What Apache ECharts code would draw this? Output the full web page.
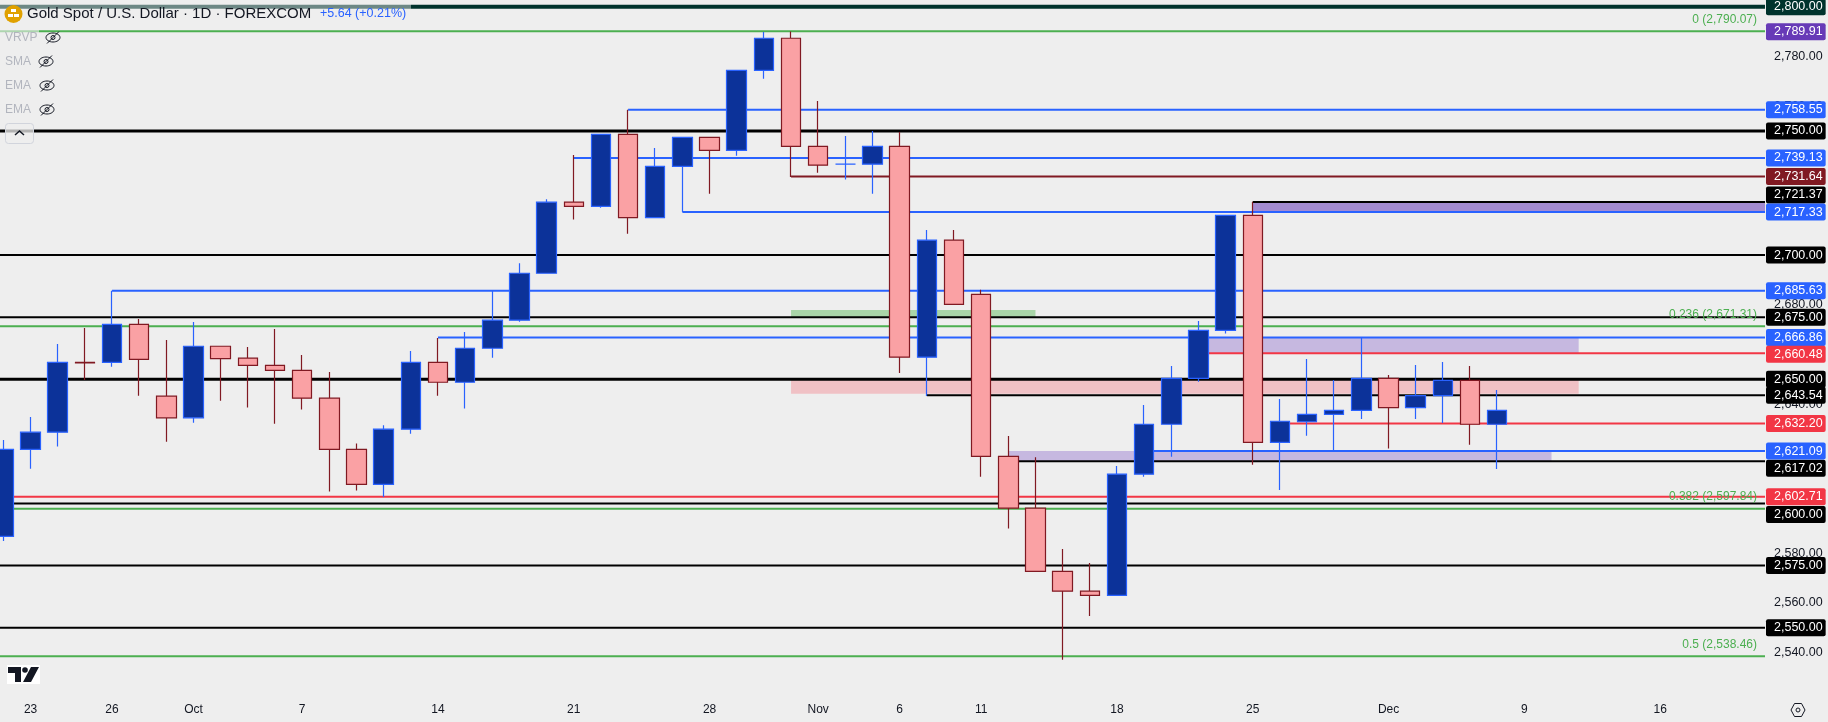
<!DOCTYPE html>
<html>
<head>
<meta charset="utf-8">
<title>Gold Spot / U.S. Dollar</title>
<script src="https://cdn.jsdelivr.net/npm/echarts@6/dist/echarts.min.js"></script>
<style>
  html, body { margin: 0; padding: 0; background: #eeeeee; }
  #chart { width: 1828px; height: 722px; }
</style>
</head>
<body>
<div id="chart"></div>
<script>
// daily candles, one bar per weekday starting Sep 20
const opens = [2586.8, 2621.8, 2628.7, 2656.8, 2656.8, 2672.1, 2643.2, 2634.5, 2663.3, 2658.5, 2655.6, 2653.6, 2642.4, 2621.8,
  2607.7, 2629.9, 2656.8, 2648.8, 2662.5, 2673.8, 2692.7, 2721.3, 2719.6, 2748.6, 2715.1, 2735.7, 2747.4, 2742.2,
  2774.4, 2787.3, 2743.8, 2736.6, 2736.6, 2743.8, 2658.9, 2706.0, 2684.2, 2619.0, 2598.1, 2572.7, 2564.7, 2563.0,
  2611.8, 2631.9, 2650.4, 2669.7, 2716.0, 2624.6, 2632.9, 2635.9, 2637.5, 2650.4, 2638.6, 2643.4, 2649.6, 2631.9];
const closes = [2621.8, 2628.7, 2656.8, 2656.6, 2672.1, 2658.0, 2634.5, 2663.3, 2658.3, 2655.6, 2653.6, 2642.4, 2621.8, 2607.7,
  2629.9, 2656.8, 2648.8, 2662.5, 2673.8, 2692.7, 2721.3, 2719.6, 2748.6, 2715.1, 2735.7, 2747.4, 2742.2, 2774.4,
  2787.3, 2743.8, 2736.2, 2736.6, 2743.8, 2658.9, 2706.0, 2680.2, 2619.0, 2598.1, 2572.7, 2564.7, 2563.0, 2611.8,
  2631.9, 2650.4, 2669.7, 2716.0, 2624.6, 2633.1, 2635.9, 2637.5, 2650.4, 2638.6, 2643.4, 2649.6, 2631.9, 2637.5];
const lows = [2584.9, 2614.0, 2622.9, 2649.7, 2655.1, 2643.4, 2624.9, 2632.5, 2641.4, 2638.6, 2632.1, 2637.8, 2604.8, 2605.2,
  2602.6, 2628.1, 2643.4, 2638.2, 2658.7, 2673.2, 2692.7, 2714.3, 2719.1, 2708.6, 2715.1, 2717.4, 2724.7, 2740.0,
  2771.0, 2731.4, 2733.2, 2730.4, 2724.7, 2652.5, 2643.3, 2680.2, 2610.8, 2589.9, 2572.7, 2537.1, 2554.7, 2563.0,
  2610.8, 2618.8, 2649.0, 2668.4, 2615.6, 2605.4, 2627.3, 2621.3, 2634.0, 2622.1, 2634.0, 2632.4, 2623.6, 2613.9];
const highs = [2625.6, 2634.8, 2664.2, 2670.7, 2685.6, 2674.3, 2665.8, 2673.1, 2663.3, 2663.0, 2670.2, 2659.8, 2652.9, 2624.2,
  2631.5, 2661.4, 2666.6, 2669.0, 2685.6, 2696.7, 2722.5, 2740.3, 2748.6, 2758.5, 2743.1, 2747.4, 2747.4, 2774.4,
  2789.8, 2790.0, 2762.0, 2747.9, 2750.0, 2749.6, 2710.1, 2710.1, 2686.0, 2627.2, 2618.6, 2581.7, 2576.0, 2615.1,
  2639.7, 2655.4, 2673.5, 2716.0, 2721.5, 2642.1, 2658.2, 2649.7, 2666.7, 2651.7, 2655.8, 2657.0, 2655.4, 2645.7];

const tickBars = [1, 4, 7, 11, 16, 21, 26, 30, 33, 36, 41, 46, 51, 56, 61];
const tickNames = ["23", "26", "Oct", "7", "14", "21", "28", "Nov", "6", "11", "18", "25", "Dec", "9", "16"];
const priceTicks = [2540, 2560, 2580, 2640, 2680, 2760, 2780];

// horizontal levels, grouped by colour, with the bar each one starts from
const heavyLevels = [2750, 2650];
const blackLevels = [2721.37, 2700, 2675, 2643.54, 2617.02, 2600, 2575, 2550];
const blackStarts = [46, null, null, 34, 37, null, null, null];
const tealLevels = [2800];
const blueLevels = [2758.55, 2739.13, 2717.33, 2685.63, 2666.86, 2621.09];
const blueStarts = [23, 21, 25, 4, 16, 42];
const redLevels = [2660.48, 2632.20, 2602.71];
const redStarts = [44, 47, null];
const maroonLevels = [2731.64];
const maroonStarts = [29];
const fibLevels = [2790.07, 2671.31, 2597.84, 2538.46];
const fibNames = ["0", "0.236", "0.382", "0.5"];
const lastClose = 2789.91;

// zones: [first bar, last bar, top, bottom]
const greenZones = [[29, 38, 2677.9, 2675]];
const pinkZones = [[29, 58, 2650, 2644.2]];
const purpleZones = [[44, 58, 2666.86, 2660.48], [37, 57, 2621.09, 2617.02]];
const strongPurpleZones = [[46, null, 2721.37, 2717.33]];

const xMin = -0.125;
const xMax = 64.86;
const FONT = '"Liberation Sans", Arial, sans-serif';
const INK = "#131722";

// a few axis tags get pushed off their line so they don't overlap
const tagNudge = { 2721.37: -7, 2617.02: 7, 2600: 11, 2660.48: 1 };

function money(v) {
  return v.toLocaleString("en-US", { minimumFractionDigits: 2, maximumFractionDigits: 2 });
}

function levelSeries(value, start, color, width, tagColor) {
  return {
    type: "line",
    z: 2,
    silent: true,
    symbol: "none",
    animation: false,
    lineStyle: { color: color, width: width },
    data: [[start == null ? xMin : start, value], [xMax, value]],
    endLabel: {
      show: true,
      formatter: () => money(value),
      distance: 1,
      offset: [0, tagNudge[value] || 0],
      color: "#ffffff",
      fontFamily: FONT,
      fontSize: 12.5,
      lineHeight: 13,
      backgroundColor: tagColor,
      borderRadius: 2,
      padding: [2, 3, 2, 8],
    },
  };
}

function fibSeries(value, name) {
  return {
    type: "line",
    z: 2,
    silent: true,
    symbol: "none",
    animation: false,
    lineStyle: { color: "#4caf50", width: 2 },
    data: [[xMin, value], [xMax, value]],
    endLabel: {
      show: true,
      formatter: () => name + " (" + money(value) + ")",
      align: "right",
      distance: 0,
      offset: [-8, -12],
      color: "#4caf50",
      fontFamily: FONT,
      fontSize: 12,
    },
  };
}

function zoneSeries(zones, color) {
  return {
    type: "line",
    z: 1,
    silent: true,
    symbol: "none",
    animation: false,
    data: [],
    markArea: {
      silent: true,
      animation: false,
      itemStyle: { color: color },
      data: zones.map((z) => [
        { xAxis: z[0], yAxis: z[2] },
        { xAxis: z[1] == null ? xMax : z[1], yAxis: z[3] },
      ]),
    },
  };
}

function eyeOff(x, y) {
  const stroke = { stroke: INK, lineWidth: 1, fill: null };
  return [
    { type: "ellipse", z: 50, shape: { cx: x, cy: y, rx: 7, ry: 4.5 }, style: stroke },
    { type: "circle", z: 50, shape: { cx: x, cy: y, r: 2 }, style: stroke },
    { type: "line", z: 50, shape: { x1: x - 6, y1: y + 6, x2: x + 6, y2: y - 6 }, style: stroke },
  ];
}

function legendRow(name, y, iconX) {
  return [
    { type: "text", z: 50, style: { text: name, x: 5, y: y, fill: "#b2b5be", font: "12px " + FONT, verticalAlign: "middle" } },
    ...eyeOff(iconX, y),
  ];
}

const candles = opens.map((o, i) => [i, o, closes[i], lows[i], highs[i]]);

const series = [
  zoneSeries(greenZones, "#a9d5a8"),
  zoneSeries(pinkZones, "#f0c1c5"),
  zoneSeries(purpleZones, "#c6b8e0"),
  zoneSeries(strongPurpleZones, "#a38bd1"),
];
tealLevels.forEach((v) => series.push(levelSeries(v, null, "#00332d", 4, "#00332d")));
heavyLevels.forEach((v) => series.push(levelSeries(v, null, "#000000", 3, "#000000")));
blackLevels.forEach((v, i) => series.push(levelSeries(v, blackStarts[i], "#000000", 2, "#000000")));
blueLevels.forEach((v, i) => series.push(levelSeries(v, blueStarts[i], "#2962ff", 2, "#2962ff")));
redLevels.forEach((v, i) => series.push(levelSeries(v, redStarts[i], "#f23645", 2, "#f23645")));
maroonLevels.forEach((v, i) => series.push(levelSeries(v, maroonStarts[i], "#801922", 2, "#801922")));
fibLevels.forEach((v, i) => series.push(fibSeries(v, fibNames[i])));

// last price only shows as a tag on the axis, its line stays invisible
const lastSeries = levelSeries(lastClose, null, "#673ab7", 1, "#673ab7");
lastSeries.lineStyle.opacity = 0;
series.push(lastSeries);

series.push({
  type: "candlestick",
  z: 5,
  silent: true,
  animation: false,
  barWidth: 20,
  data: candles,
  itemStyle: {
    color: "#0c3299",
    color0: "#faa1a4",
    borderColor: "#2962ff",
    borderColor0: "#801922",
    borderColorDoji: "#2962ff",
    borderWidth: 1.2,
  },
});

const chart = echarts.init(document.getElementById("chart"), null, { renderer: "canvas" });

chart.setOption({
  animation: false,
  backgroundColor: "#eeeeee",
  textStyle: { fontFamily: FONT },
  grid: { left: 0, top: 0, width: 1765, height: 695 },
  xAxis: {
    type: "value",
    min: xMin,
    max: xMax,
    splitLine: { show: false },
    axisLine: { show: false },
    axisTick: { show: false },
    axisLabel: {
      customValues: tickBars,
      formatter: (v) => tickNames[tickBars.indexOf(v)],
      color: INK,
      fontSize: 12,
      fontFamily: FONT,
      margin: 9,
      showMinLabel: true,
      showMaxLabel: true,
    },
  },
  yAxis: {
    type: "value",
    position: "right",
    min: 2522.9,
    max: 2802.7,
    splitLine: { show: false },
    axisLine: { show: false },
    axisTick: { show: false },
    axisLabel: {
      customValues: priceTicks,
      formatter: (v) => money(v),
      color: INK,
      fontSize: 12.5,
      fontFamily: FONT,
      margin: 9,
    },
  },
  graphic: [
    // header wash over the top line
    { type: "rect", z: 40, shape: { x: 0, y: 0, width: 411, height: 27 }, style: { fill: "rgba(238,238,238,0.46)" } },
    { type: "rect", z: 40, shape: { x: 0, y: 28, width: 39, height: 18 }, style: { fill: "rgba(238,238,238,0.6)" } },
    { type: "circle", z: 50, shape: { cx: 13.5, cy: 14, r: 9 }, style: { fill: "#e0a100" } },
    { type: "rect", z: 51, shape: { x: 11, y: 9, width: 5, height: 3 }, style: { fill: "#ffffff" } },
    { type: "rect", z: 51, shape: { x: 8, y: 14, width: 5, height: 3 }, style: { fill: "#ffffff" } },
    { type: "rect", z: 51, shape: { x: 14, y: 14, width: 5, height: 3 }, style: { fill: "#ffffff" } },
    { type: "text", z: 50, style: { text: "Gold Spot / U.S. Dollar · 1D · FOREXCOM", x: 27, y: 14, fill: INK, font: "15px " + FONT, verticalAlign: "middle" } },
    { type: "text", z: 50, style: { text: "+5.64 (+0.21%)", x: 320, y: 14, fill: "#2962ff", font: "12.5px " + FONT, verticalAlign: "middle" } },
    ...legendRow("VRVP", 37.5, 53),
    ...legendRow("SMA", 61.5, 46),
    ...legendRow("EMA", 85.5, 47),
    ...legendRow("EMA", 109.5, 47),
    {
      type: "rect", z: 50,
      shape: { x: 5.5, y: 123.5, width: 28, height: 20, r: 3 },
      style: { fill: "rgba(238,238,238,0.75)", stroke: "#d1d4dc", lineWidth: 1 },
    },
    { type: "polyline", z: 51, shape: { points: [[15, 135], [19.5, 131], [24, 135]] }, style: { stroke: INK, lineWidth: 1.5, fill: null } },
    // TradingView mark
    { type: "rect", z: 50, shape: { x: 7, y: 665, width: 33, height: 19 }, style: { fill: "#ffffff" } },
    { type: "polygon", z: 51, shape: { points: [[8, 667], [21, 667], [21, 682], [15, 682], [15, 673], [8, 673]] }, style: { fill: INK } },
    { type: "circle", z: 51, shape: { cx: 25, cy: 670, r: 2.8 }, style: { fill: INK } },
    { type: "polygon", z: 51, shape: { points: [[31, 667], [39, 667], [31, 682], [23, 682]] }, style: { fill: INK } },
    // settings button
    {
      type: "polygon", z: 50,
      shape: { points: [[1791, 710], [1794.5, 703.5], [1801.5, 703.5], [1805, 710], [1801.5, 716.5], [1794.5, 716.5]] },
      style: { stroke: INK, lineWidth: 1, fill: null },
    },
    { type: "circle", z: 50, shape: { cx: 1798, cy: 710, r: 2 }, style: { stroke: INK, lineWidth: 1, fill: null } },
  ],
  series: series,
});
</script>
</body>
</html>
